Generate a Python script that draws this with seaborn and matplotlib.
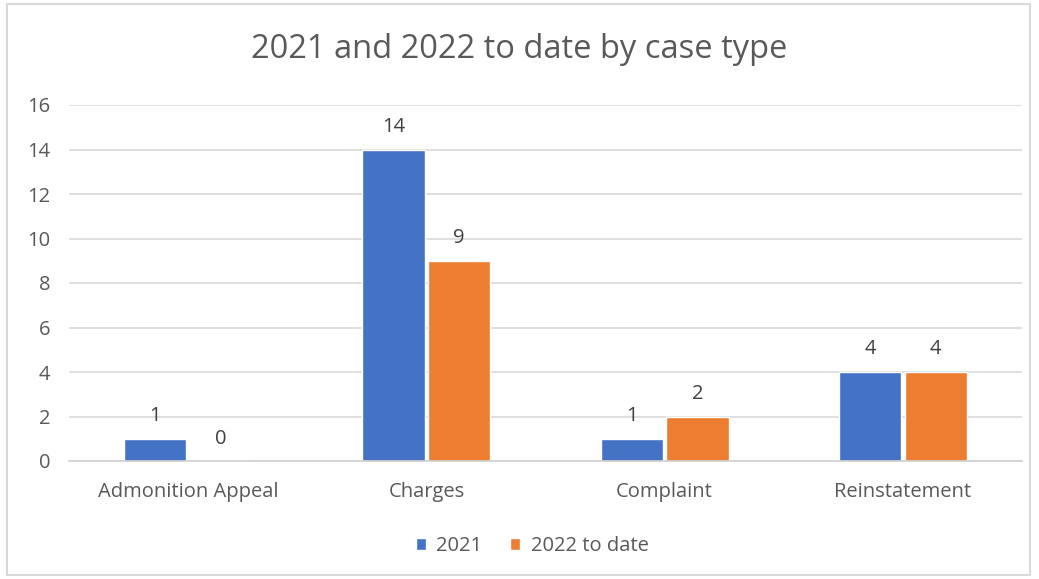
import matplotlib
matplotlib.use("Agg")
import matplotlib.pyplot as plt
from matplotlib.patches import Rectangle
from matplotlib.ticker import FixedLocator
import seaborn as sns
import pandas as pd

categories = ["Admonition Appeal", "Charges", "Complaint", "Reinstatement"]
series_names = ["2021", "2022 to date"]
values_2021 = [1, 14, 1, 4]
values_2022 = [0, 9, 2, 4]
y_ticks = [0, 2, 4, 6, 8, 10, 12, 14, 16]

colors = ["#4472C4", "#ED7D31"]

df = pd.DataFrame({
    "case_type": categories * 2,
    "series": [series_names[0]] * len(categories) + [series_names[1]] * len(categories),
    "count": values_2021 + values_2022,
})

sns.set_style("white")
plt.rcParams["font.family"] = ["Open Sans", "DejaVu Sans"]

fig = plt.figure(figsize=(10.39, 5.79), dpi=100)
ax = fig.add_axes([69 / 1039, 1 - 461 / 579, (1022 - 69) / 1039, (461 - 105) / 579])

sns.barplot(data=df, x="case_type", y="count", hue="series", order=categories,
            hue_order=series_names, palette=colors, width=0.55, gap=0.05,
            saturation=1, ax=ax, legend=True, errorbar=None)

ax.set_ylim(0, 16)
ax.set_xlim(-0.5, len(categories) - 0.5)
ax.set_yticks(y_ticks)
ax.yaxis.grid(True, color="#D9D9D9", linewidth=1.2)
ax.set_axisbelow(True)
ax.set_xlabel("")
ax.set_ylabel("")
for s in ["top", "right", "left"]:
    ax.spines[s].set_visible(False)
ax.spines["bottom"].set_color("#D0D0D0")
ax.spines["bottom"].set_linewidth(1.2)

label_size = 14.5
ax.tick_params(axis="y", length=0, pad=13.5, labelsize=label_size, labelcolor="#595959")
ax.tick_params(axis="x", which="major", length=0, pad=15, labelsize=label_size, labelcolor="#595959")
ax.xaxis.set_minor_locator(FixedLocator([i - 0.5 for i in range(len(categories) + 1)]))
ax.tick_params(axis="x", which="minor", length=5, width=1.2, color="#D0D0D0", direction="out")

for container in ax.containers:
    ax.bar_label(container, fmt="%d", padding=9, fontsize=label_size, color="#404040")

leg = ax.legend(loc="upper center", bbox_to_anchor=(0.486, -0.16), ncol=2, frameon=False,
                fontsize=label_size, handlelength=0.5, handleheight=0.5, handletextpad=0.5,
                columnspacing=1.4, labelcolor="#595959")

fig.text(0.5, 1 - 50 / 579, "2021 and 2022 to date by case type", ha="center", va="center",
         fontsize=23.5, color="#595959")

fig.patches.append(Rectangle((7 / 1039, 4 / 579), 1023 / 1039, 571 / 579, transform=fig.transFigure,
                             fill=False, edgecolor="#D9D9D9", linewidth=1.5))

fig.savefig("out.png", dpi=100, facecolor="white")
